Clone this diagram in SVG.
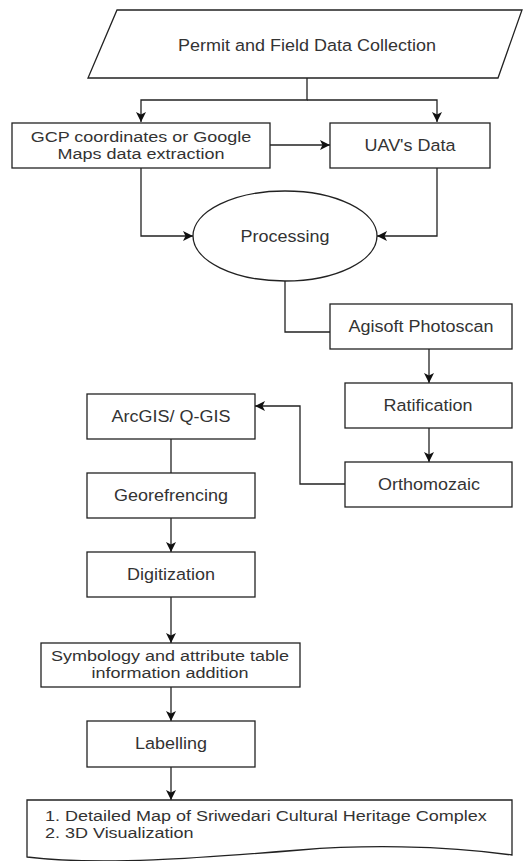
<svg xmlns="http://www.w3.org/2000/svg" width="525" height="861" viewBox="0 0 525 861">
<defs>
<marker id="arr" viewBox="0 0 10 10" refX="10" refY="5" markerWidth="10" markerHeight="10" orient="auto" markerUnits="userSpaceOnUse">
<path d="M0,0 L10,5 L0,10 L2.5,5 Z" fill="#111"/>
</marker>
<style>
.s{fill:#fff;stroke:#222;stroke-width:1.3}
.e{fill:none;stroke:#222;stroke-width:1.3}
.a{marker-end:url(#arr)}
text{font-family:"Liberation Sans",Arial,sans-serif;font-size:16.5px;fill:#333;dominant-baseline:central}
text.m{font-size:15px}
.c{text-anchor:middle}
</style>
</defs>
<rect width="525" height="861" fill="#fff"/>
<g id="connectors">
<path class="e a" d="M307,78 V100 H141 V122"/>
<path class="e a" d="M307,100 H437 V122"/>
<path class="e a" d="M270,145 H330"/>
<path class="e a" d="M141,168 V236 H193"/>
<path class="e a" d="M437,168 V236 H377"/>
<path class="e" d="M285,281 V332 H330"/>
<path class="e a" d="M429,349 V383"/>
<path class="e a" d="M429,428 V462"/>
<path class="e a" d="M345,484 H300 V406 H255"/>
<path class="e" d="M171,439 V473"/>
<path class="e a" d="M171,518 V552"/>
<path class="e a" d="M171,597 V643"/>
<path class="e a" d="M171,687 V721"/>
<path class="e a" d="M171,767 V800"/>
</g>
<g id="permit">
<path class="s" d="M117,10 H522 L498,78 H88 Z"/>
<text class="c" transform="translate(307,45) scale(1.09,1)">Permit and Field Data Collection</text>
</g>
<g id="gcp">
<rect class="s" x="12" y="123" width="258" height="45"/>
<text class="c m" transform="translate(141,137) scale(1.2,1)">GCP coordinates or Google</text>
<text class="c m" transform="translate(141,154) scale(1.2,1)">Maps data extraction</text>
</g>
<g id="uav">
<rect class="s" x="330" y="123" width="160" height="45"/>
<text class="c" transform="translate(410,145) scale(1.09,1)">UAV's Data</text>
</g>
<g id="processing">
<ellipse class="s" cx="285" cy="236" rx="92" ry="45"/>
<text class="c" transform="translate(285,236) scale(1.09,1)">Processing</text>
</g>
<g id="agisoft">
<rect class="s" x="330" y="304" width="182" height="45"/>
<text class="c" transform="translate(421,326) scale(1.09,1)">Agisoft Photoscan</text>
</g>
<g id="ratification">
<rect class="s" x="345" y="383" width="167" height="45"/>
<text class="c" transform="translate(428,405) scale(1.09,1)">Ratification</text>
</g>
<g id="orthomozaic">
<rect class="s" x="345" y="462" width="167" height="45"/>
<text class="c" transform="translate(429,484) scale(1.09,1)">Orthomozaic</text>
</g>
<g id="arcgis">
<rect class="s" x="87" y="394" width="168" height="45"/>
<text class="c" transform="translate(171,416) scale(1.09,1)">ArcGIS/ Q-GIS</text>
</g>
<g id="georef">
<rect class="s" x="87" y="473" width="168" height="45"/>
<text class="c" transform="translate(171,495) scale(1.09,1)">Georefrencing</text>
</g>
<g id="digitization">
<rect class="s" x="87" y="552" width="168" height="45"/>
<text class="c" transform="translate(171,574) scale(1.09,1)">Digitization</text>
</g>
<g id="symbology">
<rect class="s" x="41" y="643" width="259" height="44"/>
<text class="c m" transform="translate(170,656.5) scale(1.2,1)">Symbology and attribute table</text>
<text class="c m" transform="translate(170,673.5) scale(1.2,1)">information addition</text>
</g>
<g id="labelling">
<rect class="s" x="87" y="721" width="168" height="46"/>
<text class="c" transform="translate(171,743) scale(1.09,1)">Labelling</text>
</g>
<g id="output">
<path class="s" d="M27,800 H512 V855 C440,845 360,845 300,850 C200,858 100,866 27,857 Z"/>
<text class="m" transform="translate(45,816) scale(1.2,1)">1. Detailed Map of Sriwedari Cultural Heritage Complex</text>
<text class="m" transform="translate(45,833) scale(1.2,1)">2. 3D Visualization</text>
</g>
</svg>
